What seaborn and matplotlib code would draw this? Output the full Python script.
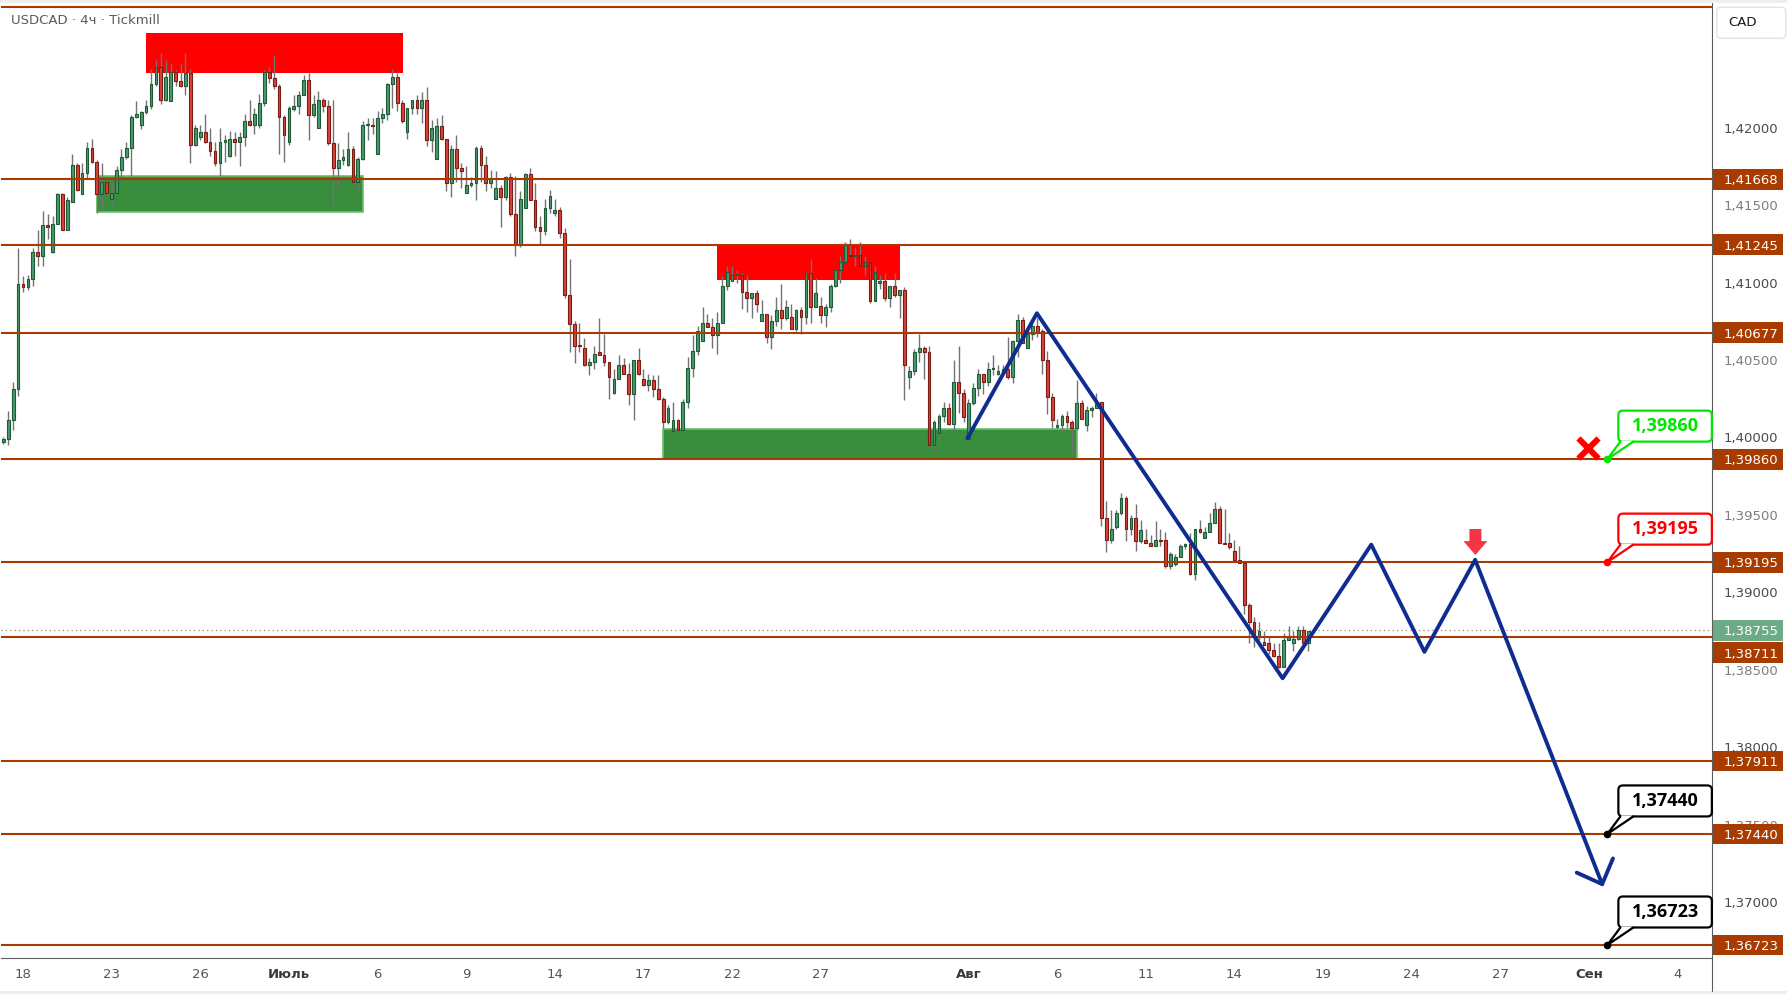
import numpy as np
import pandas as pd
import matplotlib
matplotlib.use("Agg")
import matplotlib.pyplot as plt
import matplotlib.transforms as mtransforms
from matplotlib.patches import Rectangle, FancyBboxPatch, Polygon
from matplotlib.lines import Line2D
import seaborn as sns

# ---------------- data (USDCAD, 4h candles) ----------------
open_ = [
    1.3997, 1.3999, 1.4011, 1.4031, 1.4099, 1.4097, 1.4102, 1.4120, 1.4117, 1.4137,
    1.4120, 1.4138, 1.4157, 1.4134, 1.4152, 1.4176, 1.4157, 1.4171, 1.4187, 1.4178,
    1.4157, 1.4165, 1.4154, 1.4158, 1.4173, 1.4181, 1.4187, 1.4207, 1.4202, 1.4210,
    1.4214, 1.4228, 1.4239, 1.4218, 1.4217, 1.4236, 1.4230, 1.4227, 1.4235, 1.4189,
    1.4194, 1.4197, 1.4191, 1.4185, 1.4177, 1.4191, 1.4182, 1.4193, 1.4191, 1.4194,
    1.4204, 1.4202, 1.4202, 1.4216, 1.4236, 1.4232, 1.4227, 1.4207, 1.4191, 1.4212,
    1.4214, 1.4221, 1.4231, 1.4208, 1.4200, 1.4218, 1.4214, 1.4190, 1.4174, 1.4179,
    1.4176, 1.4186, 1.4165, 1.4180, 1.4202, 1.4202, 1.4183, 1.4206, 1.4209, 1.4228,
    1.4233, 1.4216, 1.4197, 1.4213, 1.4218, 1.4213, 1.4218, 1.4192, 1.4180, 1.4201,
    1.4193, 1.4164, 1.4186, 1.4174, 1.4158, 1.4163, 1.4164, 1.4187, 1.4176, 1.4164,
    1.4154, 1.4161, 1.4155, 1.4168, 1.4144, 1.4124, 1.4148, 1.4170, 1.4153, 1.4136,
    1.4133, 1.4148, 1.4145, 1.4147, 1.4132, 1.4092, 1.4073, 1.4060, 1.4058, 1.4047,
    1.4049, 1.4055, 1.4053, 1.4049, 1.4029, 1.4038, 1.4047, 1.4041, 1.4028, 1.4050,
    1.4038, 1.4034, 1.4037, 1.4031, 1.4025, 1.4010, 1.4004, 1.4011, 1.4005, 1.4023,
    1.4045, 1.4056, 1.4062, 1.4074, 1.4071, 1.4066, 1.4074, 1.4098, 1.4101, 1.4105,
    1.4105, 1.4094, 1.4090, 1.4093, 1.4075, 1.4080, 1.4065, 1.4075, 1.4082, 1.4077,
    1.4078, 1.4070, 1.4082, 1.4078, 1.4106, 1.4084, 1.4085, 1.4079, 1.4084, 1.4098,
    1.4108, 1.4113, 1.4118, 1.4117, 1.4118, 1.4111, 1.4113, 1.4088, 1.4100, 1.4101,
    1.4090, 1.4098, 1.4092, 1.4095, 1.4039, 1.4043, 1.4055, 1.4058, 1.4055, 1.3995,
    1.4003, 1.4014, 1.4019, 1.4009, 1.4036, 1.4029, 1.3999, 1.4022, 1.4032, 1.4041,
    1.4036, 1.4044, 1.4041, 1.4042, 1.4044, 1.4039, 1.4062, 1.4076, 1.4058, 1.4067,
    1.4072, 1.4069, 1.4050, 1.4026, 1.4007, 1.4008, 1.4014, 1.4010, 1.4006, 1.4022,
    1.4008, 1.4018, 1.4019, 1.4023, 1.3948, 1.3934, 1.3942, 1.3951, 1.3961, 1.3941,
    1.3948, 1.3933, 1.3934, 1.3932, 1.3930, 1.3934, 1.3934, 1.3917, 1.3918, 1.3923,
    1.3930, 1.3931, 1.3912, 1.3941, 1.3935, 1.3939, 1.3945, 1.3954, 1.3932, 1.3932,
    1.3927, 1.3921, 1.3919, 1.3892, 1.3881, 1.3872, 1.3868, 1.3867, 1.3863, 1.3859,
    1.3852, 1.3869, 1.3867, 1.3870, 1.3876, 1.3867,
]
high = [
    1.4000, 1.4017, 1.4036, 1.4122, 1.4104, 1.4105, 1.4122, 1.4134, 1.4146, 1.4144,
    1.4143, 1.4158, 1.4158, 1.4155, 1.4183, 1.4177, 1.4177, 1.4191, 1.4193, 1.4179,
    1.4177, 1.4165, 1.4164, 1.4175, 1.4186, 1.4191, 1.4208, 1.4217, 1.4211, 1.4218,
    1.4238, 1.4244, 1.4248, 1.4244, 1.4242, 1.4237, 1.4242, 1.4248, 1.4238, 1.4202,
    1.4202, 1.4209, 1.4200, 1.4191, 1.4200, 1.4195, 1.4198, 1.4197, 1.4197, 1.4209,
    1.4218, 1.4213, 1.4222, 1.4237, 1.4239, 1.4247, 1.4228, 1.4208, 1.4214, 1.4221,
    1.4224, 1.4234, 1.4235, 1.4221, 1.4224, 1.4219, 1.4218, 1.4218, 1.4190, 1.4186,
    1.4197, 1.4188, 1.4181, 1.4204, 1.4206, 1.4206, 1.4211, 1.4213, 1.4229, 1.4238,
    1.4235, 1.4218, 1.4213, 1.4218, 1.4221, 1.4223, 1.4226, 1.4205, 1.4206, 1.4208,
    1.4193, 1.4189, 1.4195, 1.4177, 1.4175, 1.4168, 1.4188, 1.4189, 1.4182, 1.4173,
    1.4172, 1.4163, 1.4169, 1.4171, 1.4169, 1.4159, 1.4171, 1.4174, 1.4164, 1.4143,
    1.4154, 1.4160, 1.4154, 1.4149, 1.4135, 1.4115, 1.4075, 1.4074, 1.4064, 1.4051,
    1.4059, 1.4077, 1.4067, 1.4049, 1.4044, 1.4053, 1.4051, 1.4048, 1.4050, 1.4058,
    1.4044, 1.4041, 1.4040, 1.4040, 1.4026, 1.4021, 1.4023, 1.4012, 1.4025, 1.4052,
    1.4066, 1.4072, 1.4084, 1.4080, 1.4077, 1.4081, 1.4104, 1.4111, 1.4111, 1.4108,
    1.4106, 1.4105, 1.4093, 1.4095, 1.4089, 1.4080, 1.4079, 1.4091, 1.4099, 1.4089,
    1.4086, 1.4083, 1.4084, 1.4107, 1.4115, 1.4103, 1.4091, 1.4086, 1.4099, 1.4109,
    1.4117, 1.4126, 1.4128, 1.4122, 1.4126, 1.4117, 1.4114, 1.4111, 1.4105, 1.4106,
    1.4098, 1.4106, 1.4095, 1.4097, 1.4046, 1.4057, 1.4067, 1.4059, 1.4059, 1.4011,
    1.4015, 1.4023, 1.4022, 1.4050, 1.4059, 1.4031, 1.4025, 1.4035, 1.4044, 1.4041,
    1.4049, 1.4053, 1.4047, 1.4047, 1.4065, 1.4063, 1.4080, 1.4078, 1.4069, 1.4075,
    1.4077, 1.4070, 1.4056, 1.4029, 1.4012, 1.4015, 1.4017, 1.4011, 1.4037, 1.4024,
    1.4020, 1.4020, 1.4029, 1.4023, 1.3959, 1.3953, 1.3953, 1.3964, 1.3962, 1.3950,
    1.3957, 1.3947, 1.3941, 1.3937, 1.3946, 1.3941, 1.3939, 1.3926, 1.3925, 1.3931,
    1.3932, 1.3938, 1.3941, 1.3947, 1.3942, 1.3951, 1.3958, 1.3956, 1.3954, 1.3938,
    1.3934, 1.3930, 1.3919, 1.3893, 1.3884, 1.3881, 1.3875, 1.3871, 1.3867, 1.3867,
    1.3874, 1.3878, 1.3875, 1.3878, 1.3878, 1.3875,
]
low = [
    1.3996, 1.3995, 1.4005, 1.4027, 1.4094, 1.4095, 1.4098, 1.4111, 1.4111, 1.4128,
    1.4119, 1.4138, 1.4134, 1.4134, 1.4152, 1.4159, 1.4157, 1.4167, 1.4177, 1.4145,
    1.4148, 1.4155, 1.4150, 1.4158, 1.4168, 1.4180, 1.4169, 1.4206, 1.4199, 1.4209,
    1.4212, 1.4227, 1.4215, 1.4217, 1.4217, 1.4227, 1.4226, 1.4221, 1.4177, 1.4188,
    1.4192, 1.4190, 1.4182, 1.4175, 1.4169, 1.4178, 1.4181, 1.4182, 1.4175, 1.4188,
    1.4201, 1.4196, 1.4200, 1.4214, 1.4229, 1.4225, 1.4183, 1.4178, 1.4189, 1.4211,
    1.4209, 1.4221, 1.4192, 1.4207, 1.4200, 1.4210, 1.4189, 1.4150, 1.4162, 1.4176,
    1.4175, 1.4165, 1.4159, 1.4179, 1.4192, 1.4196, 1.4183, 1.4203, 1.4205, 1.4213,
    1.4211, 1.4203, 1.4193, 1.4209, 1.4209, 1.4203, 1.4188, 1.4184, 1.4180, 1.4192,
    1.4159, 1.4155, 1.4165, 1.4161, 1.4158, 1.4162, 1.4153, 1.4165, 1.4159, 1.4161,
    1.4154, 1.4136, 1.4153, 1.4143, 1.4117, 1.4123, 1.4148, 1.4153, 1.4133, 1.4125,
    1.4131, 1.4145, 1.4143, 1.4129, 1.4090, 1.4055, 1.4048, 1.4055, 1.4046, 1.4040,
    1.4044, 1.4053, 1.4046, 1.4025, 1.4028, 1.4038, 1.4041, 1.4021, 1.4011, 1.4040,
    1.4033, 1.4030, 1.4026, 1.4024, 1.4006, 1.4009, 1.4004, 1.4004, 1.4003, 1.4019,
    1.4039, 1.4053, 1.4062, 1.4071, 1.4058, 1.4054, 1.4074, 1.4095, 1.4101, 1.4100,
    1.4083, 1.4081, 1.4077, 1.4081, 1.4075, 1.4061, 1.4057, 1.4072, 1.4070, 1.4076,
    1.4070, 1.4069, 1.4067, 1.4073, 1.4074, 1.4084, 1.4074, 1.4071, 1.4081, 1.4097,
    1.4100, 1.4113, 1.4117, 1.4111, 1.4110, 1.4105, 1.4087, 1.4088, 1.4096, 1.4088,
    1.4084, 1.4091, 1.4077, 1.4024, 1.4031, 1.4040, 1.4049, 1.4038, 1.3995, 1.3991,
    1.3998, 1.4010, 1.4008, 1.4004, 1.4016, 1.4010, 1.3999, 1.4021, 1.4027, 1.4028,
    1.4033, 1.4040, 1.4040, 1.4041, 1.4038, 1.4035, 1.4052, 1.4061, 1.4058, 1.4063,
    1.4065, 1.4041, 1.4015, 1.4006, 1.4006, 1.4003, 1.4006, 1.3990, 1.4005, 1.4012,
    1.4004, 1.4013, 1.4019, 1.3943, 1.3926, 1.3932, 1.3941, 1.3950, 1.3933, 1.3937,
    1.3927, 1.3932, 1.3932, 1.3930, 1.3930, 1.3930, 1.3916, 1.3915, 1.3917, 1.3923,
    1.3928, 1.3911, 1.3908, 1.3938, 1.3935, 1.3939, 1.3945, 1.3932, 1.3931, 1.3928,
    1.3921, 1.3919, 1.3886, 1.3867, 1.3865, 1.3869, 1.3866, 1.3860, 1.3858, 1.3851,
    1.3852, 1.3869, 1.3862, 1.3869, 1.3866, 1.3862,
]
close = [
    1.3999, 1.4011, 1.4031, 1.4099, 1.4097, 1.4102, 1.4120, 1.4117, 1.4137, 1.4136,
    1.4138, 1.4157, 1.4134, 1.4153, 1.4176, 1.4160, 1.4171, 1.4187, 1.4178, 1.4157,
    1.4165, 1.4158, 1.4158, 1.4173, 1.4181, 1.4187, 1.4207, 1.4209, 1.4210, 1.4214,
    1.4228, 1.4239, 1.4218, 1.4233, 1.4236, 1.4230, 1.4227, 1.4235, 1.4189, 1.4200,
    1.4197, 1.4191, 1.4185, 1.4177, 1.4191, 1.4192, 1.4193, 1.4191, 1.4194, 1.4204,
    1.4202, 1.4209, 1.4216, 1.4236, 1.4232, 1.4227, 1.4207, 1.4195, 1.4213, 1.4214,
    1.4221, 1.4231, 1.4208, 1.4215, 1.4218, 1.4214, 1.4190, 1.4174, 1.4179, 1.4181,
    1.4186, 1.4165, 1.4180, 1.4202, 1.4202, 1.4201, 1.4206, 1.4209, 1.4228, 1.4233,
    1.4216, 1.4204, 1.4213, 1.4218, 1.4213, 1.4218, 1.4192, 1.4200, 1.4201, 1.4193,
    1.4164, 1.4186, 1.4174, 1.4172, 1.4163, 1.4164, 1.4187, 1.4176, 1.4164, 1.4167,
    1.4161, 1.4155, 1.4168, 1.4144, 1.4124, 1.4154, 1.4170, 1.4153, 1.4136, 1.4133,
    1.4148, 1.4156, 1.4147, 1.4132, 1.4092, 1.4073, 1.4059, 1.4059, 1.4047, 1.4049,
    1.4054, 1.4053, 1.4049, 1.4039, 1.4038, 1.4047, 1.4041, 1.4028, 1.4050, 1.4041,
    1.4034, 1.4037, 1.4031, 1.4025, 1.4010, 1.4019, 1.4011, 1.4005, 1.4023, 1.4045,
    1.4056, 1.4069, 1.4074, 1.4071, 1.4066, 1.4074, 1.4098, 1.4107, 1.4105, 1.4105,
    1.4094, 1.4090, 1.4093, 1.4086, 1.4080, 1.4065, 1.4075, 1.4082, 1.4077, 1.4084,
    1.4070, 1.4082, 1.4078, 1.4106, 1.4084, 1.4093, 1.4079, 1.4084, 1.4098, 1.4108,
    1.4113, 1.4124, 1.4117, 1.4118, 1.4111, 1.4113, 1.4088, 1.4107, 1.4101, 1.4090,
    1.4098, 1.4092, 1.4095, 1.4047, 1.4043, 1.4055, 1.4058, 1.4055, 1.3995, 1.4010,
    1.4014, 1.4019, 1.4009, 1.4036, 1.4029, 1.4013, 1.4022, 1.4032, 1.4041, 1.4036,
    1.4044, 1.4045, 1.4043, 1.4044, 1.4039, 1.4062, 1.4076, 1.4061, 1.4067, 1.4072,
    1.4068, 1.4050, 1.4026, 1.4011, 1.4008, 1.4014, 1.4010, 1.4006, 1.4022, 1.4012,
    1.4018, 1.4019, 1.4022, 1.3948, 1.3934, 1.3941, 1.3951, 1.3961, 1.3941, 1.3948,
    1.3933, 1.3940, 1.3932, 1.3930, 1.3934, 1.3933, 1.3917, 1.3925, 1.3923, 1.3930,
    1.3931, 1.3912, 1.3941, 1.3939, 1.3939, 1.3945, 1.3954, 1.3932, 1.3931, 1.3929,
    1.3921, 1.3919, 1.3892, 1.3881, 1.3871, 1.3875, 1.3866, 1.3863, 1.3859, 1.3852,
    1.3869, 1.3872, 1.3870, 1.3876, 1.3867, 1.3875,
]

levels = [1.42777, 1.41668, 1.41245, 1.40677, 1.39860, 1.39195, 1.38711, 1.37911, 1.37440, 1.36723]
badge_levels = [1.41668, 1.41245, 1.40677, 1.39860, 1.39195, 1.38711, 1.37911, 1.37440, 1.36723]
last_price = 1.38755

zone_start = [29.0, 19.1, 145.0, 134.0]
zone_end = [81.1, 73.1, 182.1, 218.0]
zone_low = [1.42355, 1.41454, 1.41017, 1.39861]
zone_high = [1.42610, 1.41690, 1.41245, 1.40053]
zone_kind = ["supply", "demand", "supply", "demand"]

path_bar = [195.8, 209.9, 259.8, 277.8, 288.6, 298.9, 324.9]
path_price = [1.39995, 1.40802, 1.38445, 1.39308, 1.38616, 1.39209, 1.37099]

callout_levels = [1.39860, 1.39195, 1.37440, 1.36723]
callout_colors = ["#00E600", "#FF0000", "#000000", "#000000"]
callout_bar = 325.75

cross_bar, cross_price = 321.9, 1.39930
signal_bar, signal_top, signal_tip = 298.95, 1.39409, 1.39241

tick_bars = [4, 22, 40, 58, 76, 94, 112, 130, 148, 166, 196, 214, 232, 250, 268, 286, 304, 322, 340]
tick_labels = ["18", "23", "26", "Июль", "6", "9", "14", "17", "22", "27",
               "Авг", "6", "11", "14", "19", "24", "27", "Сен", "4"]
month_labels = ["Июль", "Авг", "Сен"]
price_ticks = [1.370, 1.375, 1.380, 1.385, 1.390, 1.395, 1.400, 1.405, 1.410, 1.415, 1.420]

# ---------------- style ----------------
sns.set_theme(style="white")
plt.rcParams["font.family"] = ["DejaVu Sans"]

LEVEL_C = "#A83C00"
BLUE = "#0F2C90"
W_PX, H_PX = 1787, 994
fig = plt.figure(figsize=(17.8701, 9.9401), dpi=100, facecolor="white")

ax_l, ax_r, ax_t, ax_b = 1, 1712, 3, 958.3
ax = fig.add_axes([ax_l / W_PX, 1 - ax_b / H_PX, (ax_r - ax_l) / W_PX, (ax_b - ax_t) / H_PX])
ax.set_facecolor("white")
ax.set_xlim(-0.467, 347.0)
ax.set_ylim(1.366371, 1.428051)

# frame strips
fig.add_artist(Rectangle((0, 1 - 3 / H_PX), 1, 3 / H_PX, transform=fig.transFigure,
                         fc="#eeeeee", ec="none", zorder=-1))
fig.add_artist(Rectangle((0, 0), 1, 3 / H_PX, transform=fig.transFigure,
                         fc="#eeeeee", ec="none", zorder=-1))

# ---------------- zones ----------------
for s, e, lo, hi, k in zip(zone_start, zone_end, zone_low, zone_high, zone_kind):
    if k == "supply":
        ax.add_patch(Rectangle((s, lo), e - s, hi - lo, fc="#FF0000", ec="none", zorder=1))
    else:
        ax.add_patch(Rectangle((s, lo), e - s, hi - lo, fc="#388E3C", ec="#6CC070",
                               lw=1.2, zorder=1))

# ---------------- candles ----------------
df = pd.DataFrame({"open": open_, "high": high, "low": low, "close": close})
df["bar"] = np.arange(len(df))
df["high"] = df[["high", "open", "close"]].max(axis=1)
df["low"] = df[["low", "open", "close"]].min(axis=1)
up = (df["close"] >= df["open"]).to_numpy()
body_h = (df["close"] - df["open"]).abs().clip(lower=0.00008)
body_bottom = (df["open"] + df["close"]) / 2 - body_h / 2
ax.vlines(df["bar"], df["low"], df["high"], color="#737373", lw=1.0, zorder=3)
ax.bar(df["bar"], body_h, bottom=body_bottom, width=0.56,
       color=["#4A9A6C" if u else "#D8433A" for u in up],
       edgecolor=["#1E5A36" if u else "#7A1C14" for u in up],
       linewidth=0.8, zorder=4)

# ---------------- levels ----------------
for lv in levels:
    ax.axhline(lv, color=LEVEL_C, lw=1.5, zorder=5)
ax.axhline(last_price, color="#8a8a8a", lw=0.9, ls=(0, (1, 2.5)), zorder=2)

# ---------------- projection path ----------------
sns.lineplot(x=path_bar[:-1], y=path_price[:-1], sort=False, estimator=None,
             color=BLUE, lw=2.8, ax=ax, zorder=6)
ax.annotate("", xy=(path_bar[-1], path_price[-1]), xytext=(path_bar[-2], path_price[-2]),
            arrowprops=dict(arrowstyle="->,head_length=0.72,head_width=0.7", color=BLUE,
                            lw=2.8, shrinkA=0, shrinkB=0, mutation_scale=20),
            zorder=6)

# markers
ax.scatter([cross_bar], [cross_price], marker="x", s=210, linewidths=4.3,
           color="#FF0000", zorder=7)
ax.annotate("", xy=(signal_bar, signal_tip), xytext=(signal_bar, signal_top),
            arrowprops=dict(arrowstyle="simple,head_length=0.5,head_width=0.86,tail_width=0.43",
                            fc="#F23645", ec="none", shrinkA=0, shrinkB=0, mutation_scale=20),
            zorder=7)

# ---------------- axes / ticks ----------------
for sp in ["left", "top", "right"]:
    ax.spines[sp].set_visible(False)
ax.spines["bottom"].set_color("#5d5d5d")
ax.spines["bottom"].set_linewidth(0.8)

ax.yaxis.tick_right()
ax.set_yticks(price_ticks)
ax.set_yticklabels([f"{v:.5f}".replace(".", ",") for v in price_ticks])
ax.tick_params(axis="y", length=0, pad=8.6, labelsize=9.5, left=False, labelleft=False,
               right=True, labelright=True)
for v, lab in zip(price_ticks, ax.get_yticklabels()):
    lab.set_color("#4a4a4a" if round(v * 1000) % 10 == 0 else "#7d7d7d")

ax.set_xticks(tick_bars)
ax.set_xticklabels(tick_labels)
ax.tick_params(axis="x", length=0, pad=7, labelsize=9.5, labelcolor="#555555")
for lab in ax.get_xticklabels():
    if lab.get_text() in month_labels:
        lab.set_fontweight("bold")
        lab.set_color("#3a3a3a")
ax.set_xlabel("")
ax.set_ylabel("")
ax.grid(False)

# separator of the price scale
fig.add_artist(Line2D([ax_r / W_PX] * 2, [3 / H_PX, 1 - 3 / H_PX], transform=fig.transFigure,
                      color="#5d5d5d", lw=0.8, zorder=3))

# ---------------- price badges ----------------
blend = mtransforms.blended_transform_factory(ax.transAxes, ax.transData)


def badge(price, label, fc, dy=0.0):
    t = fig.dpi_scale_trans + mtransforms.ScaledTranslation(1.0, price, blend)
    fig.add_artist(Rectangle((0.012, dy - 0.104), 0.70, 0.208, transform=t,
                             fc=fc, ec="none", zorder=5))
    fig.text(0.12, dy, label, transform=t, color="white", fontsize=9.5,
             ha="left", va="center_baseline", zorder=6)


for lv in badge_levels:
    shift = -0.156 if abs(lv - 1.38711) < 1e-6 else 0.0
    badge(lv, f"{lv:.5f}".replace(".", ","), "#A83C00", shift)
badge(last_price, f"{last_price:.5f}".replace(".", ","), "#6DAA87")

# ---------------- callouts ----------------
for lv, col in zip(callout_levels, callout_colors):
    t = fig.dpi_scale_trans + mtransforms.ScaledTranslation(callout_bar, lv, ax.transData)
    fig.add_artist(FancyBboxPatch((0.110, 0.175), 0.935, 0.31,
                                  boxstyle="round,pad=0,rounding_size=0.045",
                                  transform=t, fc="white", ec=col, lw=1.6, zorder=9))
    fig.add_artist(Polygon([(0.135, 0.185), (0.004, 0.004), (0.255, 0.185)], closed=True,
                           transform=t, fc="white", ec="none", zorder=10))
    fig.add_artist(Line2D([0.13, 0.0, 0.26], [0.175, 0.0, 0.175], transform=t,
                          color=col, lw=1.6, zorder=11))
    fig.add_artist(Line2D([0.0], [0.0], transform=t, marker="o", ms=4.5,
                          color=col, lw=0, zorder=12))
    fig.text(0.5775, 0.33, f"{lv:.5f}".replace(".", ","), transform=t, color=col,
             fontsize=13, fontweight="bold", family=["Open Sans", "DejaVu Sans"],
             ha="center", va="center", zorder=12)

# ---------------- header items ----------------
fig.add_artist(FancyBboxPatch((17.167, (H_PX - 38.3) / 100), 0.69, 0.31,
                              boxstyle="round,pad=0,rounding_size=0.04",
                              transform=fig.dpi_scale_trans, fc="white", ec="#e0e3eb",
                              lw=1.0, zorder=6))
fig.text(17.28, (H_PX - 22.5) / 100, "CAD", transform=fig.dpi_scale_trans, fontsize=9.5,
         color="#131722", ha="left", va="center", zorder=7)
fig.text(0.114, (H_PX - 20.5) / 100, "USDCAD · 4ч · Tickmill", transform=fig.dpi_scale_trans,
         fontsize=9.5, color="#5a5a5a", ha="left", va="center", zorder=7)

fig.savefig("out.png", dpi=100, facecolor="white")
